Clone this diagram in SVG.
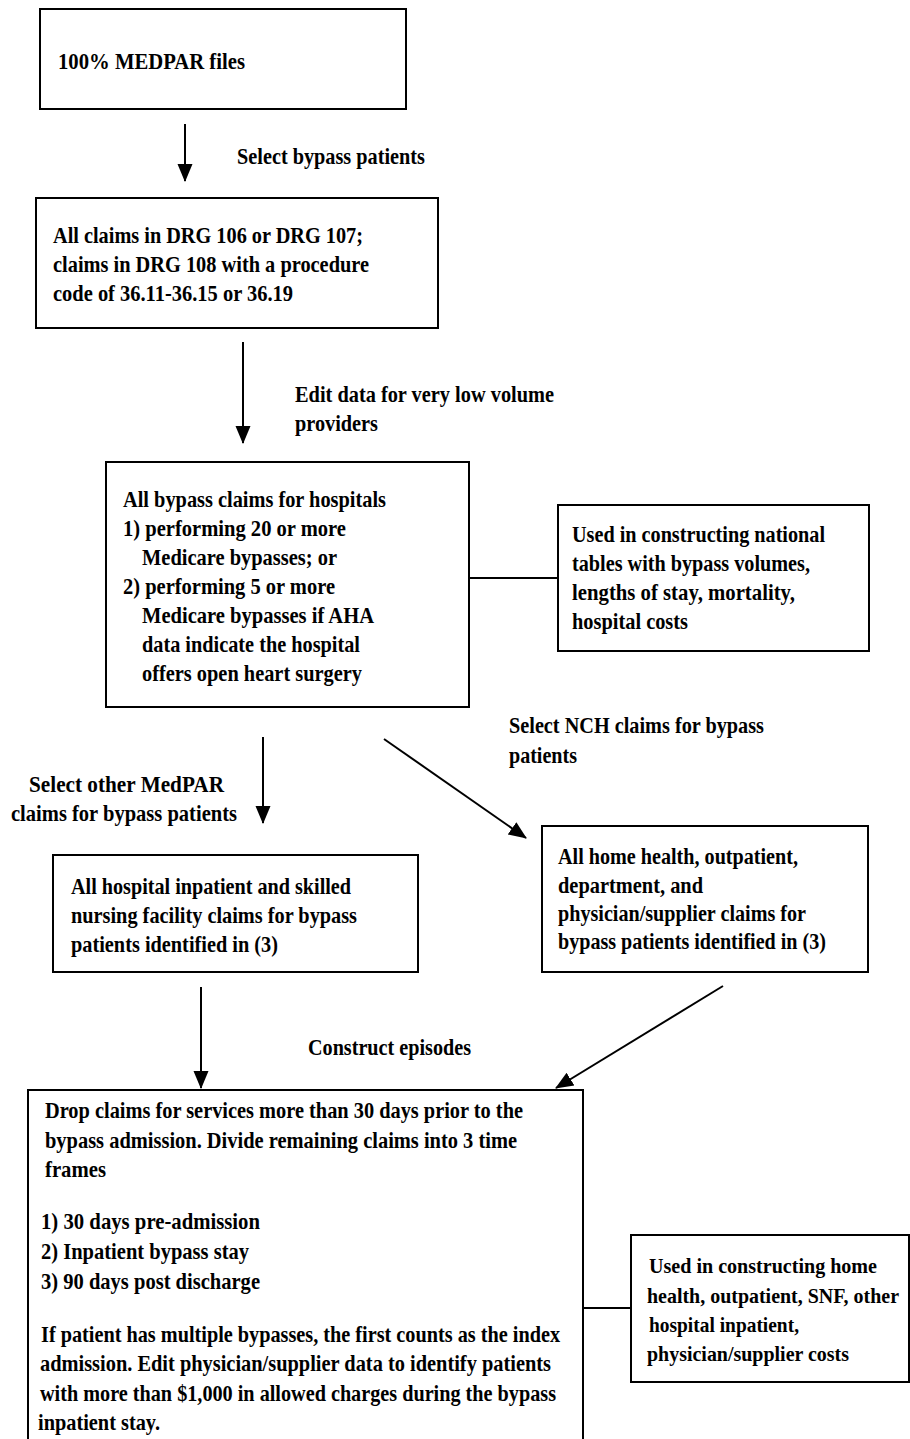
<svg xmlns="http://www.w3.org/2000/svg" width="910" height="1439" viewBox="0 0 910 1439">
<defs>
<marker id="ah" markerUnits="userSpaceOnUse" markerWidth="18" markerHeight="18" viewBox="0 0 18 18" refX="17" refY="9" orient="auto">
<path d="M0,1.5 L18,9 L0,16.5 Z" fill="#000"/>
</marker>
<style>
.box{fill:#fff;stroke:#000;stroke-width:2}
.t{font-family:"Liberation Serif","Times New Roman",serif;font-size:24px;font-weight:bold;fill:#000}
.s{font-size:21px}
.c{stroke:#000;stroke-width:2;fill:none}
.a{stroke:#000;stroke-width:2;fill:none;marker-end:url(#ah)}
</style>
</defs>
<rect width="910" height="1439" fill="#fff"/>

<g id="connectors">
<line class="a" x1="185" y1="124" x2="185" y2="181"/>
<line class="a" x1="243" y1="342" x2="243" y2="443"/>
<line class="c" x1="469" y1="578" x2="558" y2="578"/>
<line class="a" x1="263" y1="737" x2="263" y2="823"/>
<line class="a" x1="384" y1="739" x2="526" y2="838"/>
<line class="a" x1="201" y1="987" x2="201" y2="1088"/>
<line class="a" x1="723" y1="986" x2="556" y2="1088"/>
<line class="c" x1="583" y1="1308" x2="632" y2="1308"/>
</g>

<g id="labels">
<text class="t" x="237" y="164" textLength="188" lengthAdjust="spacingAndGlyphs">Select bypass patients</text>
<text class="t" x="295" y="402" textLength="259" lengthAdjust="spacingAndGlyphs">Edit data for very low volume</text>
<text class="t" x="295" y="431" textLength="83" lengthAdjust="spacingAndGlyphs">providers</text>
<text class="t" x="509" y="733" textLength="255" lengthAdjust="spacingAndGlyphs">Select NCH claims for bypass</text>
<text class="t" x="509" y="763" textLength="68" lengthAdjust="spacingAndGlyphs">patients</text>
<text class="t" x="29" y="792" textLength="195" lengthAdjust="spacingAndGlyphs">Select other MedPAR</text>
<text class="t" x="11" y="821" textLength="226" lengthAdjust="spacingAndGlyphs">claims for bypass patients</text>
<text class="t" x="308" y="1055" textLength="163" lengthAdjust="spacingAndGlyphs">Construct episodes</text>
</g>

<g id="n1">
<rect class="box" x="40" y="9" width="366" height="100"/>
<text class="t" x="58" y="69" textLength="187" lengthAdjust="spacingAndGlyphs">100% MEDPAR files</text>
</g>

<g id="n2">
<rect class="box" x="36" y="198" width="402" height="130"/>
<text class="t" x="53" y="243" textLength="310" lengthAdjust="spacingAndGlyphs">All claims in DRG 106 or DRG 107;</text>
<text class="t" x="53" y="272" textLength="316" lengthAdjust="spacingAndGlyphs">claims in DRG 108 with a procedure</text>
<text class="t" x="53" y="301" textLength="240" lengthAdjust="spacingAndGlyphs">code of 36.11-36.15 or 36.19</text>
</g>

<g id="n3">
<rect class="box" x="106" y="462" width="363" height="245"/>
<text class="t" x="123" y="507" textLength="263" lengthAdjust="spacingAndGlyphs">All bypass claims for hospitals</text>
<text class="t" x="123" y="536" textLength="223" lengthAdjust="spacingAndGlyphs">1) performing 20 or more</text>
<text class="t" x="142" y="565" textLength="195" lengthAdjust="spacingAndGlyphs">Medicare bypasses; or</text>
<text class="t" x="123" y="594" textLength="212" lengthAdjust="spacingAndGlyphs">2) performing 5 or more</text>
<text class="t" x="142" y="623" textLength="232" lengthAdjust="spacingAndGlyphs">Medicare bypasses if AHA</text>
<text class="t" x="142" y="652" textLength="218" lengthAdjust="spacingAndGlyphs">data indicate the hospital</text>
<text class="t" x="142" y="681" textLength="220" lengthAdjust="spacingAndGlyphs">offers open heart surgery</text>
</g>

<g id="n4">
<rect class="box" x="558" y="505" width="311" height="146"/>
<text class="t" x="572" y="542" textLength="253" lengthAdjust="spacingAndGlyphs">Used in constructing national</text>
<text class="t" x="572" y="571" textLength="238" lengthAdjust="spacingAndGlyphs">tables with bypass volumes,</text>
<text class="t" x="572" y="600" textLength="223" lengthAdjust="spacingAndGlyphs">lengths of stay, mortality,</text>
<text class="t" x="572" y="629" textLength="116" lengthAdjust="spacingAndGlyphs">hospital costs</text>
</g>

<g id="n5">
<rect class="box" x="53" y="855" width="365" height="117"/>
<text class="t" x="71" y="894" textLength="280" lengthAdjust="spacingAndGlyphs">All hospital inpatient and skilled</text>
<text class="t" x="71" y="923" textLength="286" lengthAdjust="spacingAndGlyphs">nursing facility claims for bypass</text>
<text class="t" x="71" y="952" textLength="207" lengthAdjust="spacingAndGlyphs">patients identified in (3)</text>
</g>

<g id="n6">
<rect class="box" x="542" y="826" width="326" height="146"/>
<text class="t" x="558" y="864" textLength="240" lengthAdjust="spacingAndGlyphs">All home health, outpatient,</text>
<text class="t" x="558" y="893" textLength="145" lengthAdjust="spacingAndGlyphs">department, and</text>
<text class="t" x="558" y="921" textLength="248" lengthAdjust="spacingAndGlyphs">physician/supplier claims for</text>
<text class="t" x="558" y="949" textLength="268" lengthAdjust="spacingAndGlyphs">bypass patients identified in (3)</text>
</g>

<g id="n7">
<rect class="box" x="28" y="1090" width="555" height="360"/>
<text class="t" x="45" y="1118" textLength="478" lengthAdjust="spacingAndGlyphs">Drop claims for services more than 30 days prior to the</text>
<text class="t" x="45" y="1148" textLength="472" lengthAdjust="spacingAndGlyphs">bypass admission.  Divide remaining claims into 3 time</text>
<text class="t" x="45" y="1177" textLength="61" lengthAdjust="spacingAndGlyphs">frames</text>
<text class="t" x="41" y="1229" textLength="219" lengthAdjust="spacingAndGlyphs">1) 30 days pre-admission</text>
<text class="t" x="41" y="1259" textLength="208" lengthAdjust="spacingAndGlyphs">2) Inpatient bypass stay</text>
<text class="t" x="41" y="1289" textLength="219" lengthAdjust="spacingAndGlyphs">3) 90 days post discharge</text>
<text class="t" x="41" y="1342" textLength="519" lengthAdjust="spacingAndGlyphs">If patient has multiple bypasses, the first counts as the index</text>
<text class="t" x="40" y="1371" textLength="511" lengthAdjust="spacingAndGlyphs">admission.  Edit physician/supplier data to identify patients</text>
<text class="t" x="40" y="1401" textLength="516" lengthAdjust="spacingAndGlyphs">with more than $1,000 in allowed charges during the bypass</text>
<text class="t" x="38" y="1430" textLength="122" lengthAdjust="spacingAndGlyphs">inpatient stay.</text>
</g>

<g id="n8">
<rect class="box" x="631" y="1235" width="278" height="147"/>
<text class="t s" x="649" y="1273" textLength="228" lengthAdjust="spacingAndGlyphs">Used in constructing home</text>
<text class="t s" x="647" y="1303" textLength="252" lengthAdjust="spacingAndGlyphs">health, outpatient, SNF, other</text>
<text class="t s" x="649" y="1332" textLength="150" lengthAdjust="spacingAndGlyphs">hospital inpatient,</text>
<text class="t s" x="647" y="1361" textLength="202" lengthAdjust="spacingAndGlyphs">physician/supplier costs</text>
</g>
</svg>
